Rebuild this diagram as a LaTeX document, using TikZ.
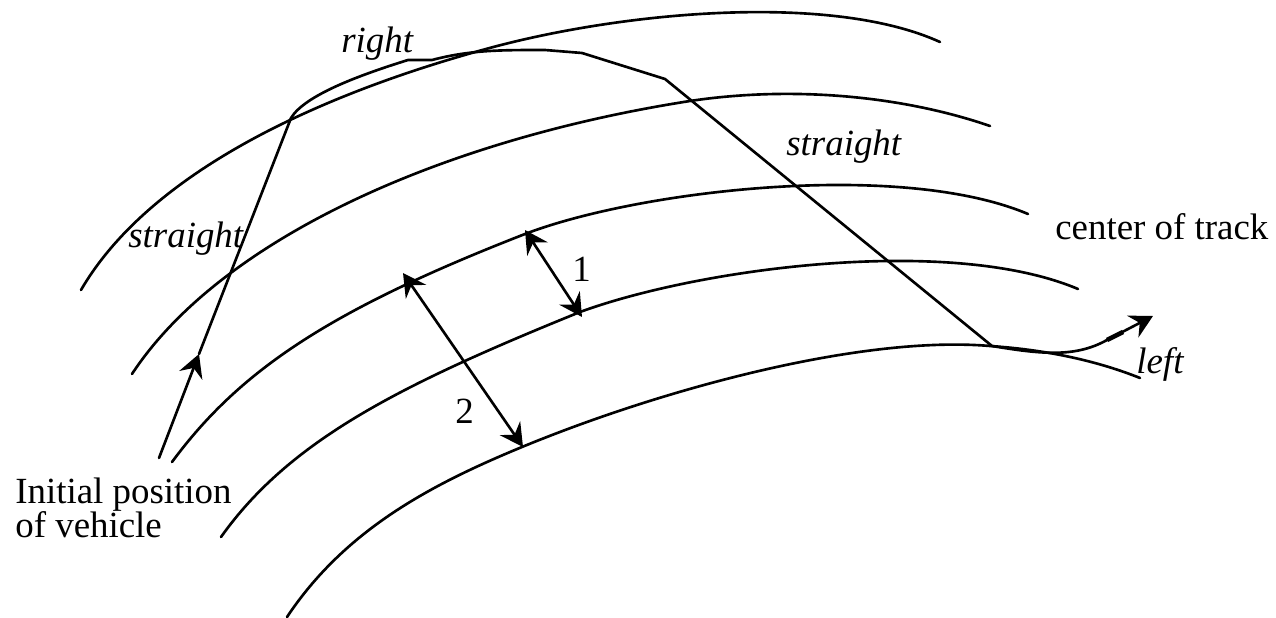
\documentclass[tikz,border=0pt]{standalone}
\usepackage{fontspec}
\setmainfont{Liberation Serif}
\usetikzlibrary{arrows.meta}
\tikzset{
  trackline/.style={line width=1.5pt, line cap=round},
  pathline/.style={line width=1.5pt, line cap=round, line join=round},
  lbl/.style={font=\fontsize{21}{25}\selectfont, inner sep=0pt, align=left},
  lblit/.style={font=\fontsize{21}{25}\selectfont\itshape, inner sep=0pt}
}
\begin{document}
\begin{tikzpicture}[x=0.02cm, y=-0.02cm, >={Stealth[length=13pt, width=14pt, inset=4.5pt]}]
\useasboundingbox (0,0) rectangle (1276,618);
% tracks
\draw[trackline] (81,290) .. controls (145,180) and (300,100) .. (486,49) .. controls (620,12) and (830,-8) .. (940,42);
\draw[trackline] (132,374) .. controls (220,240) and (440,140) .. (690,101) .. controls (790,86) and (900,95) .. (990,126);
\draw[trackline] (172,462) .. controls (240,370) and (330,310) .. (525,234) .. controls (640,190) and (900,160) .. (1028,214);
\draw[trackline] (221,537) .. controls (290,440) and (400,385) .. (580,312) .. controls (700,268) and (950,235) .. (1078,289);
\draw[trackline] (287,617) .. controls (345,530) and (430,485) .. (522,447) .. controls (660,390) and (860,335) .. (990,346) .. controls (1050,350) and (1100,362) .. (1140,378);
% named points
\coordinate (start) at (159,458);
\coordinate (midarrow) at (199,354);
\coordinate (turn1) at (291,118);
\coordinate (turn2) at (665,79);
\coordinate (turn3) at (992,346);
\coordinate (bend) at (1107,340);
\coordinate (bendend) at (1123,332);
\coordinate (tip) at (1153,316);
\coordinate (a1) at (525,230);
\coordinate (b1) at (582,317);
\coordinate (a2) at (403,273);
\coordinate (b2) at (523,447);
% vehicle path
\draw[pathline, ->] (start) -- (midarrow);
\draw[pathline] (midarrow) -- (turn1) .. controls (305,95) and (360,75) .. (408,60) -- (432,60) .. controls (470,50) and (500,50) .. (545,50) -- (582,53) -- (turn2) -- (turn3) .. controls (1040,354) and (1075,358) .. (bend);
\draw[pathline, ->] (bend) -- (tip);
\draw[line width=2.6pt] (bend) -- (bendend);
% widths
\draw[pathline, <->] (a1) -- (b1);
\draw[pathline, <->] (a2) -- (b2);
% labels
\node[lblit, anchor=base west] (rightlbl) at (341,53) {right};
\node[lblit, anchor=base west] (straightb) at (128,248) {straight};
\node[lblit, anchor=base west] (straighta) at (786,156) {straight};
\node[lblit, anchor=base west] (leftlbl) at (1136,374) {left};
\node[lbl, anchor=base west] (centerlbl) at (1055,240) {center of track};
\node[lbl, anchor=base west] (one) at (572,282) {1};
\node[lbl, anchor=base west] (two) at (455,424) {2};
\node[lbl, anchor=base west] (initlbl) at (15,503) {Initial position};
\node[lbl, anchor=base west] (vehlbl) at (15,538) {of vehicle};
\end{tikzpicture}
\end{document}
